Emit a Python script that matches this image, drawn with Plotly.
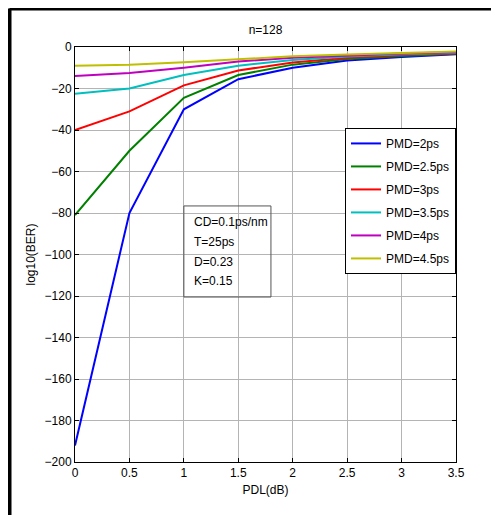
import plotly.graph_objects as go

pdl = [0, 0.5, 1, 1.5, 2, 2.5, 3, 3.5]
names = ["PMD=2ps", "PMD=2.5ps", "PMD=3ps", "PMD=3.5ps", "PMD=4ps", "PMD=4.5ps"]
colors = ["#0000ff", "#008000", "#ff0000", "#00bfbf", "#bf00bf", "#bfbf00"]
pmd_2 = [-192, -80, -30, -15.5, -10, -6.5, -4.8, -3.5]
pmd_25 = [-81, -50, -24.5, -13.5, -8.5, -5.8, -4.3, -3.2]
pmd_3 = [-40, -31, -18.5, -11.3, -7.5, -5.2, -3.9, -3.0]
pmd_35 = [-22.5, -20, -13.5, -9, -6.3, -4.6, -3.5, -2.8]
pmd_4 = [-14, -12.5, -10, -7, -5.2, -4, -3.1, -2.5]
pmd_45 = [-9, -8.5, -7.3, -5.8, -4.5, -3.6, -2.9, -2.2]
series = [pmd_2, pmd_25, pmd_3, pmd_35, pmd_4, pmd_45]

xticks = [0, 0.5, 1, 1.5, 2, 2.5, 3, 3.5]
xticklabels = ["0", "0.5", "1", "1.5", "2", "2.5", "3", "3.5"]
yticks = list(range(-200, 1, 20))

info_lines = ["CD=0.1ps/nm", "T=25ps", "D=0.23", "K=0.15"]
info_y = [-84.3, -94, -103.6, -112.8]

font = "Liberation Sans, Arial, sans-serif"
fs = 12

W, H = 491, 507
L, R, T, B = 67, 43, 39, 53
pw, ph = W - L - R, H - T - B

fig = go.Figure()
for i, (nm, c, ys) in enumerate(zip(names, colors, series)):
    fig.add_trace(go.Scatter(x=pdl, y=ys, mode="lines", name=nm,
                             line=dict(color=c, width=2), legendgroup=str(i)))

axis_common = dict(showgrid=True, gridcolor="#b4b4b4", gridwidth=1,
                   ticks="inside", ticklen=4, tickcolor="black",
                   showline=True, linecolor="black", linewidth=1, mirror="ticks",
                   zeroline=False, tickfont=dict(family=font, size=fs, color="black"))

fig.update_xaxes(range=[0, 3.5], tickvals=xticks, ticktext=xticklabels,
                 title=dict(text="PDL(dB)", font=dict(family=font, size=fs, color="black"), standoff=6),
                 **axis_common)
fig.update_yaxes(range=[-200, 0], tickvals=yticks,
                 title=dict(text="log10(BER)", font=dict(family=font, size=fs, color="black"), standoff=6),
                 **axis_common)

# info box
fig.add_shape(type="rect", xref="x", yref="y", x0=1.0, x1=1.8, y0=-120.5, y1=-76.6,
              line=dict(color="#555555", width=1), fillcolor="rgba(0,0,0,0)")
for t, yy in zip(info_lines, info_y):
    fig.add_annotation(x=1.075, y=yy, xref="x", yref="y", text=t, showarrow=False,
                       xanchor="left", yanchor="middle",
                       font=dict(family=font, size=fs, color="black"))

# outer frame (left and top thick lines)
fx = (1.5 - L) / pw
fy = 1 + (T - 0.5) / ph
fig.add_shape(type="line", xref="paper", yref="paper", x0=fx, x1=fx, y0=-0.2, y1=fy,
              line=dict(color="black", width=4))
fig.add_shape(type="line", xref="paper", yref="paper", x0=fx, x1=1.2, y0=fy, y1=fy,
              line=dict(color="black", width=4))

fig.update_layout(
    width=W, height=H,
    margin=dict(l=L, r=R, t=T, b=B),
    paper_bgcolor="white", plot_bgcolor="white",
    title=dict(text="n=128", x=L / W + pw / W / 2, xanchor="center", y=1 - 22 / H, yanchor="middle",
               font=dict(family=font, size=fs, color="black")),
    legend=dict(x=1, xanchor="right", y=0.805, yanchor="top",
                bgcolor="white", bordercolor="black", borderwidth=1,
                tracegroupgap=4, font=dict(family=font, size=fs, color="black")),
    showlegend=True,
)

fig.write_html("out.html")
